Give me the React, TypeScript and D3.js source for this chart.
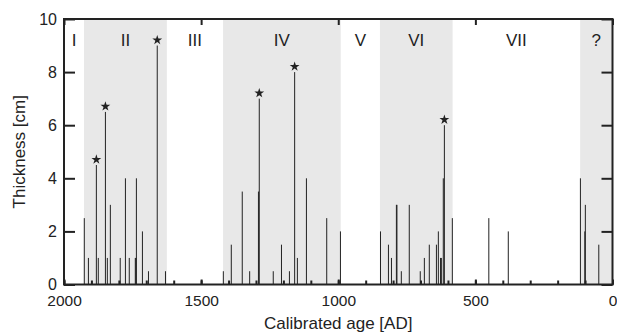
import React, { useRef, useEffect } from "react";
import * as d3 from "d3";

// deposit ages (AD) and thickness (cm)
const eventYears = [
  1926, 1911, 1882, 1875, 1849, 1842, 1831, 1795, 1776, 1762, 1740, 1738, 1736, 1714, 1692, 1660, 1630,
  1419, 1390, 1350, 1323, 1291, 1288, 1237, 1207, 1178, 1159, 1149, 1116, 1042, 992,
  846, 817, 806, 788, 786, 770, 741, 701, 686, 668, 642, 635, 627, 624, 617, 613, 584,
  451, 380, 117, 101, 99, 50,
];
const eventThickness = [
  2.5, 1.0, 4.5, 1.0, 6.5, 1.0, 3.0, 1.0, 4.0, 1.0, 1.0, 1.0, 4.0, 2.0, 0.5, 9.0, 0.5,
  0.5, 1.5, 3.5, 0.5, 3.5, 7.0, 0.5, 1.5, 0.5, 8.0, 1.0, 4.0, 2.5, 2.0,
  2.0, 1.5, 1.0, 3.0, 3.0, 0.5, 3.0, 0.5, 1.0, 1.5, 1.5, 2.0, 1.0, 1.0, 4.0, 6.0, 2.5,
  2.5, 2.0, 4.0, 2.0, 3.0, 1.5,
];
// events marked with a star
const starredYears = [1882, 1849, 1660, 1288, 1159, 613];

// periods
const bandEdges = [2000, 1927, 1625, 1420, 991, 848, 583, 118, 0];
const bandNames = ["I", "II", "III", "IV", "V", "VI", "VII", "?"];
const bandShaded = [false, true, false, true, false, true, false, true];

const xMajorTicks = [2000, 1500, 1000, 500, 0];
const yTicks = [0, 2, 4, 6, 8, 10];

const width = 617;
const height = 336;
const margin = { top: 19, right: 4.5, bottom: 51.5, left: 64 };
const font = "'Liberation Sans', Arial, Helvetica, sans-serif";
const ink = "#222";

const App = () => {
  const svgRef = useRef<SVGSVGElement | null>(null);

  useEffect(() => {
    const svg = d3.select(svgRef.current);
    svg.selectAll("*").remove();

    const innerW = width - margin.left - margin.right;
    const innerH = height - margin.top - margin.bottom;

    const x = d3.scaleLinear().domain([2000, 0]).range([0, innerW]);
    const y = d3.scaleLinear().domain([0, 10]).range([innerH, 0]);

    const g = svg.append("g").attr("transform", "translate(" + margin.left + "," + margin.top + ")");

    // shaded periods
    const bands = bandNames.map((name, i) => ({
      name,
      from: bandEdges[i],
      to: bandEdges[i + 1],
      shaded: bandShaded[i],
    }));
    g.selectAll(".band")
      .data(bands.filter((b) => b.shaded))
      .enter()
      .append("rect")
      .attr("class", "band")
      .attr("x", (d) => x(d.from))
      .attr("width", (d) => x(d.to) - x(d.from))
      .attr("y", 0)
      .attr("height", innerH)
      .attr("fill", "#e8e8e8");

    g.selectAll(".band-label")
      .data(bands)
      .enter()
      .append("text")
      .attr("class", "band-label")
      .attr("x", (d) => x((d.from + d.to) / 2))
      .attr("y", 27)
      .attr("text-anchor", "middle")
      .attr("font-family", font)
      .attr("font-size", 17)
      .attr("fill", ink)
      .text((d) => d.name);

    // stems
    const events = eventYears.map((yr, i) => ({ yr, v: eventThickness[i] }));
    g.selectAll(".stem")
      .data(events)
      .enter()
      .append("line")
      .attr("class", "stem")
      .attr("x1", (d) => x(d.yr))
      .attr("x2", (d) => x(d.yr))
      .attr("y1", y(0))
      .attr("y2", (d) => y(d.v))
      .attr("stroke", ink)
      .attr("stroke-width", 1);

    const star = d3.symbol().type(d3.symbolStar).size(30);
    g.selectAll(".star")
      .data(events.filter((d) => starredYears.includes(d.yr)))
      .enter()
      .append("path")
      .attr("class", "star")
      .attr("d", star)
      .attr("transform", (d) => "translate(" + x(d.yr) + "," + (y(d.v) - 5.5) + ")")
      .attr("fill", ink);

    // axes
    const styleAxis = (sel: any, size: number) => {
      sel.select(".domain").remove();
      sel.selectAll("line").attr("stroke", ink).attr("stroke-width", 2);
      sel.selectAll("text").attr("font-family", font).attr("font-size", size).attr("fill", ink);
    };

    g.append("g")
      .call(d3.axisLeft(y).tickValues(yTicks).tickSize(-11).tickPadding(7).tickFormat(d3.format("d")))
      .call(styleAxis, 16);
    g.append("g")
      .attr("transform", "translate(" + innerW + ",0)")
      .call(d3.axisRight(y).tickValues(yTicks).tickSize(-11).tickFormat(() => ""))
      .call(styleAxis, 16);

    g.append("g")
      .attr("transform", "translate(0," + innerH + ")")
      .call(d3.axisBottom(x).tickValues(d3.range(0, 2001, 100)).tickSize(-4).tickFormat(() => ""))
      .call(styleAxis, 16);
    g.append("g")
      .attr("transform", "translate(0," + innerH + ")")
      .call(d3.axisBottom(x).tickValues(xMajorTicks).tickSize(-5).tickPadding(10).tickFormat(d3.format("d")))
      .call(styleAxis, 15.5);
    g.append("g")
      .call(d3.axisTop(x).tickValues(xMajorTicks).tickSize(-6).tickFormat(() => ""))
      .call(styleAxis, 16);

    // frame
    g.append("rect")
      .attr("width", innerW)
      .attr("height", innerH)
      .attr("fill", "none")
      .attr("stroke", ink)
      .attr("stroke-width", 2);

    // titles
    svg.append("text")
      .attr("x", margin.left + innerW / 2)
      .attr("y", 329)
      .attr("text-anchor", "middle")
      .attr("font-family", font)
      .attr("font-size", 17)
      .attr("fill", ink)
      .text("Calibrated age [AD]");

    svg.append("text")
      .attr("transform", "translate(25," + (margin.top + innerH / 2) + ") rotate(-90)")
      .attr("text-anchor", "middle")
      .attr("font-family", font)
      .attr("font-size", 17)
      .attr("fill", ink)
      .text("Thickness [cm]");
  }, []);

  return (
    <div className="thickness-chart">
      <svg
        ref={svgRef}
        width={width}
        height={height}
        style={{ position: "absolute", left: 0, top: 0, background: "#fff" }}
      ></svg>
    </div>
  );
};

export default App;
